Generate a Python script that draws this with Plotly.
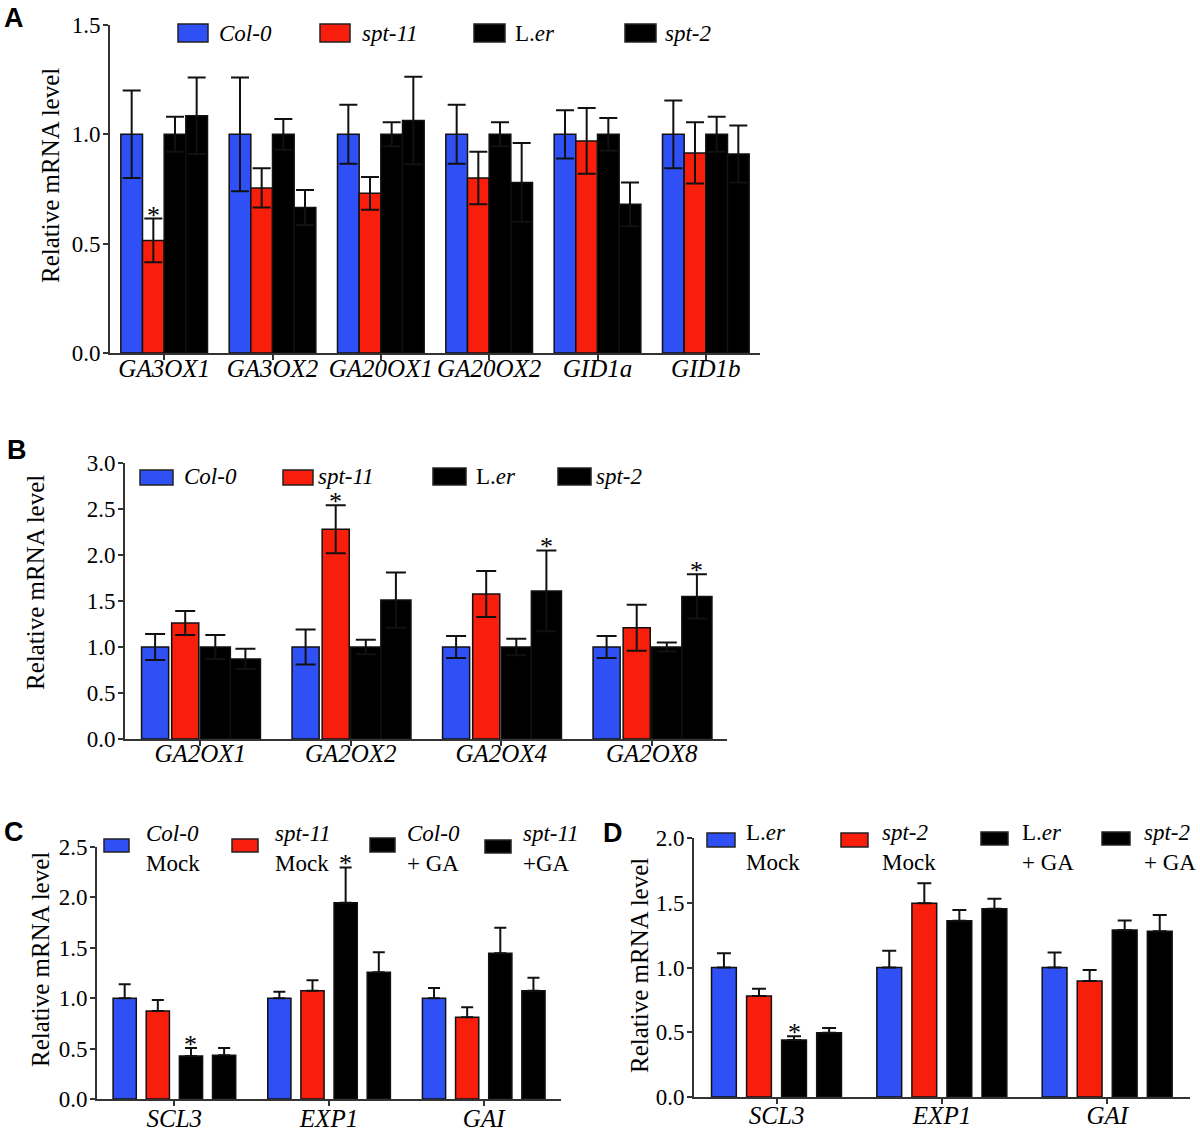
import plotly.graph_objects as go

W, H = 1200, 1131
SERIF = "Liberation Serif"
SANS = "Liberation Sans"
BLUE = "#2F50F5"
RED = "#F81E0C"
BLACK = "#000000"
AXC = "#333333"

# ---------------- data ----------------
# Panel A
A_genes = ["GA3OX1", "GA3OX2", "GA20OX1", "GA20OX2", "GID1a", "GID1b"]
A_names = ["<i>Col-0</i>", "<i>spt-11</i>", "L.<i>er</i>", "<i>spt-2</i>"]
A_col0 = [1.0, 1.0, 1.0, 1.0, 1.0, 1.0]
A_col0_err = [0.20, 0.26, 0.135, 0.135, 0.11, 0.155]
A_spt11 = [0.515, 0.755, 0.73, 0.80, 0.97, 0.915]
A_spt11_err = [0.10, 0.09, 0.075, 0.12, 0.15, 0.14]
A_ler = [1.0, 1.0, 1.0, 1.0, 1.0, 1.0]
A_ler_err = [0.08, 0.07, 0.055, 0.055, 0.075, 0.08]
A_spt2 = [1.085, 0.665, 1.063, 0.78, 0.68, 0.91]
A_spt2_err = [0.175, 0.08, 0.20, 0.18, 0.10, 0.13]
A_stars = [(0, 1)]  # (gene index, series index)

# Panel B
B_genes = ["GA2OX1", "GA2OX2", "GA2OX4", "GA2OX8"]
B_names = ["<i>Col-0</i>", "<i>spt-11</i>", "L.<i>er</i>", "<i>spt-2</i>"]
B_col0 = [1.0, 1.0, 1.0, 1.0]
B_col0_err = [0.14, 0.19, 0.12, 0.12]
B_spt11 = [1.26, 2.28, 1.575, 1.21]
B_spt11_err = [0.13, 0.26, 0.25, 0.25]
B_ler = [1.0, 1.0, 1.0, 1.0]
B_ler_err = [0.13, 0.08, 0.09, 0.05]
B_spt2 = [0.87, 1.51, 1.61, 1.55]
B_spt2_err = [0.11, 0.30, 0.44, 0.24]
B_stars = [(1, 1), (2, 3), (3, 3)]

# Panel C
C_genes = ["SCL3", "EXP1", "GAI"]
C_names = ["<i>Col-0</i><br>Mock", "<i>spt-11</i><br>Mock", "<i>Col-0</i><br>+ GA", "<i>spt-11</i><br>+GA"]
C_col0_mock = [1.0, 1.0, 1.0]
C_col0_mock_err = [0.138, 0.065, 0.10]
C_spt11_mock = [0.873, 1.074, 0.81]
C_spt11_mock_err = [0.11, 0.105, 0.10]
C_col0_ga = [0.427, 1.947, 1.445]
C_col0_ga_err = [0.08, 0.35, 0.255]
C_spt11_ga = [0.433, 1.257, 1.074]
C_spt11_ga_err = [0.073, 0.20, 0.13]
C_stars = [(0, 2), (1, 2)]

# Panel D
D_genes = ["SCL3", "EXP1", "GAI"]
D_names = ["L.<i>er</i><br>Mock", "<i>spt-2</i><br>Mock", "L.<i>er</i><br>+ GA", "<i>spt-2</i><br>+ GA"]
D_ler_mock = [1.0, 1.0, 1.0]
D_ler_mock_err = [0.11, 0.13, 0.115]
D_spt2_mock = [0.78, 1.496, 0.896]
D_spt2_mock_err = [0.055, 0.155, 0.085]
D_ler_ga = [0.44, 1.361, 1.29]
D_ler_ga_err = [0.03, 0.083, 0.073]
D_spt2_ga = [0.497, 1.454, 1.28]
D_spt2_ga_err = [0.035, 0.077, 0.125]
D_stars = [(0, 2)]

COLORS = [BLUE, RED, BLACK, BLACK]


def fx(px):
    return px / W


def fy(py):
    return 1 - py / H


panels = [
    dict(key="", genes=A_genes, names=A_names,
         vals=[A_col0, A_spt11, A_ler, A_spt2],
         errs=[A_col0_err, A_spt11_err, A_ler_err, A_spt2_err],
         stars=A_stars, sym=True, yrange=[0, 1.5],
         xpx=(110, 760), ypx=(353, 25), xstand=-13,
         widths=[0.2, 0.2, 0.2, 0.2], offsets=[-0.4, -0.2, 0.0, 0.2], cap=9,
         letter=("A", 14, 18), title=(50, 176),
         sw=[(178, 208, 24, 42), (320, 350, 24, 42), (474, 505, 24, 42), (625, 656, 24, 42)],
         tx=[217, 360, 513, 663], ty=34),
    dict(key="2", genes=B_genes, names=B_names,
         vals=[B_col0, B_spt11, B_ler, B_spt2],
         errs=[B_col0_err, B_spt11_err, B_ler_err, B_spt2_err],
         stars=B_stars, sym=True, yrange=[0, 3.0],
         xpx=(125, 727), ypx=(739, 463), xstand=-14,
         widths=[0.18, 0.18, 0.2, 0.2], offsets=[-0.39, -0.19, 0.0, 0.2], cap=10,
         letter=("B", 17, 450), title=(35, 583),
         sw=[(140, 173, 470, 485), (283, 313, 470, 485), (433, 466, 468, 485), (558, 591, 468, 485)],
         tx=[182, 316, 474, 594], ty=477),
    dict(key="3", genes=C_genes, names=C_names,
         vals=[C_col0_mock, C_spt11_mock, C_col0_ga, C_spt11_ga],
         errs=[C_col0_mock_err, C_spt11_mock_err, C_col0_ga_err, C_spt11_ga_err],
         stars=C_stars, sym=False, yrange=[0, 2.5],
         xpx=(97, 561), ypx=(1099, 847), xstand=-9,
         widths=[0.15] * 4, offsets=[-0.396, -0.1817, 0.0326, 0.2469], cap=6,
         letter=("C", 14, 832), title=(40, 960),
         sw=[(104, 129, 839, 852), (232, 258, 839, 852), (370, 395, 838, 852), (485, 511, 840, 853)],
         tx=[144, 273, 405, 521], ty=848),
    dict(key="4", genes=D_genes, names=D_names,
         vals=[D_ler_mock, D_spt2_mock, D_ler_ga, D_spt2_ga],
         errs=[D_ler_mock_err, D_spt2_mock_err, D_ler_ga_err, D_spt2_ga_err],
         stars=D_stars, sym=False, yrange=[0, 2.0],
         xpx=(694, 1190), ypx=(1097, 838), xstand=-10,
         widths=[0.15] * 4, offsets=[-0.394, -0.182, 0.03, 0.242], cap=7,
         letter=("D", 613, 833), title=(639, 966),
         sw=[(707, 735, 833, 847), (841, 868, 833, 847), (981, 1008, 832, 845), (1102, 1130, 832, 845)],
         tx=[744, 880, 1020, 1142], ty=847),
]

fig = go.Figure()
layout = dict(template="none", width=W, height=H, margin=dict(l=0, r=0, t=0, b=0, pad=0),
              autosize=False,
              paper_bgcolor="white", plot_bgcolor="white", showlegend=False,
              barmode="overlay", font=dict(family=SERIF, color="black"))
annotations = []
shapes = []

for p in panels:
    k = p["key"]
    xa, ya = "x" + k, "y" + k
    n = len(p["genes"])
    xs = list(range(n))
    for si in range(4):
        err = p["errs"][si]
        if p["sym"]:
            ey = dict(type="data", array=err, symmetric=True, color="#111111",
                      thickness=2, width=p["cap"])
        else:
            ey = dict(type="data", array=err, arrayminus=[0] * n, symmetric=False,
                      color="#111111", thickness=2, width=p["cap"])
        fig.add_trace(go.Bar(
            x=xs, y=p["vals"][si], xaxis=xa, yaxis=ya,
            width=p["widths"][si], offset=p["offsets"][si],
            marker=dict(color=COLORS[si], line=dict(color="#111111", width=1.5)),
            error_y=ey, showlegend=False, hoverinfo="skip"))
    for gi, si in p["stars"]:
        annotations.append(dict(
            xref=xa, yref=ya,
            x=gi + p["offsets"][si] + p["widths"][si] / 2,
            y=p["vals"][si][gi] + p["errs"][si][gi],
            text="*", showarrow=False, yanchor="bottom", yshift=-13,
            font=dict(family=SERIF, size=26, color="black")))
    axname = "xaxis" + k
    ayname = "yaxis" + k
    layout[axname] = dict(
        domain=[fx(p["xpx"][0]), fx(p["xpx"][1])], anchor=ya, automargin=False,
        range=[-0.5, n - 0.5], tickmode="array", tickvals=xs,
        ticktext=["<i>%s</i>" % g for g in p["genes"]],
        ticks="outside", ticklen=5, tickwidth=2, tickcolor=AXC,
        ticklabelstandoff=p["xstand"],
        showline=True, linecolor=AXC, linewidth=2, showgrid=False, zeroline=False,
        tickfont=dict(family=SERIF, size=25, color="black"), fixedrange=True)
    layout[ayname] = dict(
        domain=[fy(p["ypx"][0]), fy(p["ypx"][1])], anchor=xa, automargin=False,
        range=p["yrange"], tick0=0, dtick=0.5, tickformat=".1f",
        ticks="outside", ticklen=5, tickwidth=2, tickcolor=AXC,
        ticklabelstandoff=-2,
        showline=True, linecolor=AXC, linewidth=2, showgrid=False, zeroline=False,
        tickfont=dict(family=SERIF, size=23, color="black"), fixedrange=True)
    # panel letter
    L, lx, ly = p["letter"]
    annotations.append(dict(xref="paper", yref="paper", x=fx(lx), y=fy(ly), text="<b>%s</b>" % L,
                            showarrow=False, xanchor="center", yanchor="middle",
                            font=dict(family=SANS, size=27, color="black")))
    # y title
    tx_, ty_ = p["title"]
    annotations.append(dict(xref="paper", yref="paper", x=fx(tx_), y=fy(ty_),
                            text="Relative mRNA level", textangle=-90, showarrow=False,
                            xanchor="center", yanchor="middle",
                            font=dict(family=SERIF, size=25, color="black")))
    # legend keys
    for si in range(4):
        x0, x1, y0, y1 = p["sw"][si]
        shapes.append(dict(type="rect", xref="paper", yref="paper",
                           x0=fx(x0), x1=fx(x1), y0=fy(y1), y1=fy(y0),
                           fillcolor=COLORS[si], line=dict(color="#222222", width=1.5)))
        annotations.append(dict(xref="paper", yref="paper", x=fx(p["tx"][si]), y=fy(p["ty"]),
                                text=p["names"][si], showarrow=False, align="left",
                                xanchor="left", yanchor="middle",
                                font=dict(family=SERIF, size=23, color="black")))

layout["annotations"] = annotations
layout["shapes"] = shapes
fig.update_layout(**layout)
fig.write_html("out.html", config={"displayModeBar": False},
               post_script="document.body.style.margin='0';document.body.style.overflow='hidden';")
